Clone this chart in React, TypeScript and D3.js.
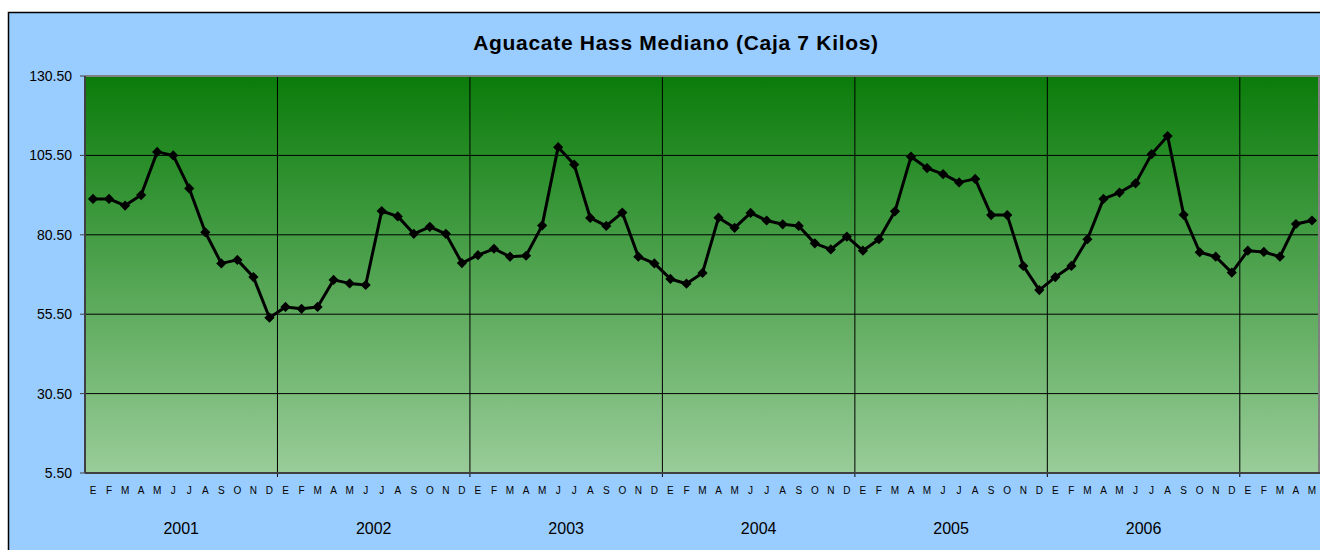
import * as d3 from "d3";

const title = "Aguacate Hass Mediano (Caja 7 Kilos)";
const years = ["2001", "2002", "2003", "2004", "2005", "2006"];
const monthLabels = ["E", "F", "M", "A", "M", "J", "J", "A", "S", "O", "N", "D"];
const yTicks = [5.5, 30.5, 55.5, 80.5, 105.5, 130.5];

// precio mensual por año (2007 solo hasta mayo)
const p2001 = [91.8, 91.8, 89.7, 93.0, 106.6, 105.5, 95.1, 81.3, 71.5, 72.6, 67.2, 54.4];
const p2002 = [57.8, 57.2, 57.8, 66.3, 65.2, 64.7, 88.0, 86.3, 80.8, 83.0, 80.8, 71.6];
const p2003 = [74.1, 76.1, 73.6, 73.9, 83.4, 108.1, 102.6, 85.8, 83.3, 87.5, 73.6, 71.5];
const p2004 = [66.6, 65.1, 68.5, 85.9, 82.7, 87.4, 85.0, 83.8, 83.3, 77.8, 75.9, 79.9];
const p2005 = [75.5, 79.1, 87.9, 105.1, 101.5, 99.6, 97.0, 98.1, 86.7, 86.7, 70.7, 63.1];
const p2006 = [67.2, 70.7, 79.1, 91.8, 93.8, 96.7, 105.9, 111.6, 86.8, 75.0, 73.6, 68.6];
const p2007 = [75.5, 75.1, 73.6, 83.9, 85.0];

const values = [...p2001, ...p2002, ...p2003, ...p2004, ...p2005, ...p2006, ...p2007];

const font = "Arial, 'Liberation Sans', sans-serif";

function App() {
  const W = 1320;
  const H = 550;
  const plot = { left: 85, right: 1320, top: 76, bottom: 473 };

  const idx = values.map((_, i) => i);
  const x = d3
    .scaleBand<number>()
    .domain(idx)
    .range([plot.left, plot.right])
    .padding(0);
  const bw = x.bandwidth();
  const cx = (i: number) => (x(i) as number) + bw / 2;

  const y = d3.scaleLinear().domain([5.5, 130.5]).range([plot.bottom, plot.top]);

  const line = d3
    .line<number>()
    .x((d, i) => cx(i))
    .y((d) => y(d));

  const diamond = d3.symbol().type(d3.symbolSquare).size(52)();

  // limites de año (cada 12 meses)
  const yearBounds = d3.range(1, Math.floor(values.length / 12) + 1).map((k) => x(k * 12) as number);

  return (
    <svg
      width={W}
      height={H}
      style={{ position: "absolute", left: 0, top: 0, fontFamily: font }}
    >
      <defs>
        <linearGradient id="bg" x1="0" y1="0" x2="0" y2="1">
          <stop offset="0%" stopColor="#0a7c0a" />
          <stop offset="100%" stopColor="#99cc99" />
        </linearGradient>
      </defs>
      <rect x={0} y={0} width={W} height={H} fill="#fff" />
      <rect x={8.5} y={12.5} width={W + 10} height={H} fill="#99ccff" stroke="#000" strokeWidth={1.5} />

      <text
        x={676}
        y={50}
        textAnchor="middle"
        fontSize={21}
        fontWeight="bold"
        letterSpacing={0.7}
      >
        {title}
      </text>

      <rect
        x={plot.left}
        y={plot.top}
        width={plot.right - plot.left}
        height={plot.bottom - plot.top}
        fill="url(#bg)"
      />

      {/* rejilla horizontal */}
      {yTicks.slice(1, -1).map((t) => (
        <line key={t} x1={plot.left} x2={plot.right} y1={y(t)} y2={y(t)} stroke="#000" strokeWidth={1} />
      ))}
      {/* rejilla vertical */}
      {yearBounds.map((b, k) => (
        <line key={k} x1={b} x2={b} y1={plot.top} y2={plot.bottom + 4} stroke="#000" strokeWidth={1} />
      ))}

      {/* marco */}
      <line x1={plot.left} x2={plot.right} y1={plot.top} y2={plot.top} stroke="#808080" strokeWidth={2} />
      <line x1={plot.right - 1} x2={plot.right - 1} y1={plot.top} y2={plot.bottom} stroke="#808080" strokeWidth={2} />
      <line x1={plot.left} x2={plot.right} y1={plot.bottom} y2={plot.bottom} stroke="#404040" strokeWidth={2} />
      <line x1={plot.left} x2={plot.left} y1={plot.top} y2={plot.bottom} stroke="#404040" strokeWidth={2} />

      {/* eje y */}
      {yTicks.map((t) => (
        <g key={t} transform={`translate(0,${y(t)})`}>
          <line x1={plot.left - 5} x2={plot.left} stroke="#404040" />
          <text x={72} textAnchor="end" dominantBaseline="central" fontSize={14} fill="#000">
            {t.toFixed(2)}
          </text>
        </g>
      ))}

      {/* meses */}
      {idx.map((i) => (
        <text key={i} x={cx(i)} y={494} textAnchor="middle" fontSize={10} fill="#000">
          {monthLabels[i % 12]}
        </text>
      ))}

      {/* años */}
      {years.map((yr, k) => (
        <text
          key={yr}
          x={((x(k * 12) as number) + (x(k * 12 + 11) as number) + bw) / 2}
          y={534}
          textAnchor="middle"
          fontSize={16}
          fill="#000"
        >
          {yr}
        </text>
      ))}

      <path d={line(values) || ""} fill="none" stroke="#000" strokeWidth={3} strokeLinejoin="round" />
      {values.map((v, i) => (
        <path key={i} d={diamond || ""} transform={`translate(${cx(i)},${y(v)}) rotate(45)`} fill="#000" />
      ))}
    </svg>
  );
}

export default App;
